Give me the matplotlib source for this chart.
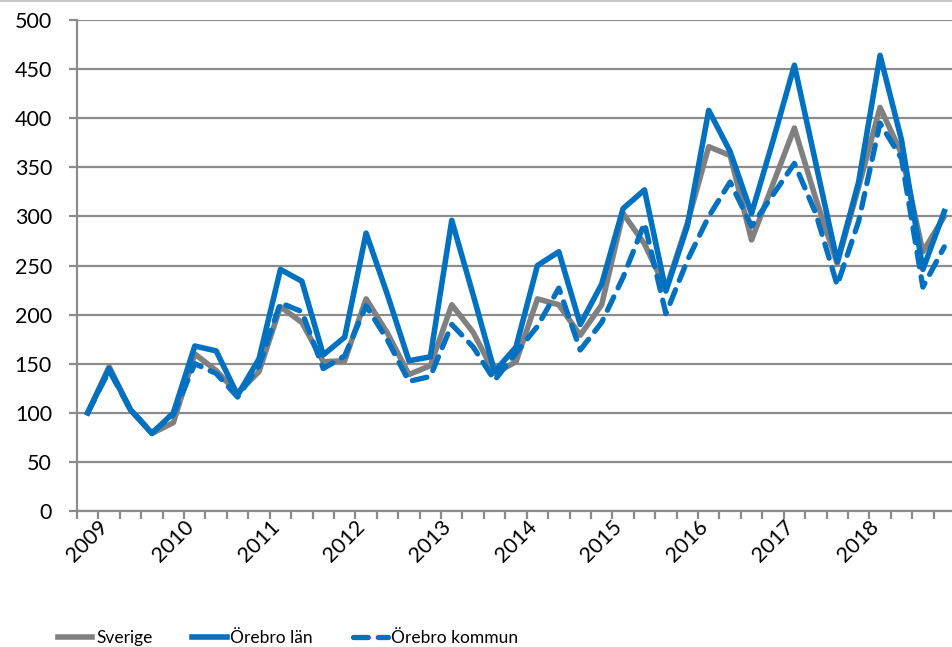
import matplotlib

matplotlib.use("Agg")

import matplotlib.pyplot as plt  # noqa: E402
from matplotlib.lines import Line2D  # noqa: E402

# Kvartalsdata, index 100 = 2009 kv1
years = ["2009", "2010", "2011", "2012", "2013", "2014", "2015", "2016", "2017", "2018"]
sverige = [100, 147, 103, 79, 90, 160, 143, 120, 142, 208, 192, 152, 153, 216, 181,
           139, 148, 210, 182, 140, 152, 216, 210, 179, 210, 303, 272, 226, 293, 371,
           362, 276, 333, 390, 318, 252, 330, 411, 364, 264, 300]
orebro_lan = [100, 145, 103, 79, 100, 168, 163, 118, 155, 246, 234, 159, 177, 283, 220,
              153, 157, 296, 220, 142, 167, 250, 264, 190, 231, 308, 327, 224, 290, 408,
              366, 303, 377, 454, 354, 254, 335, 464, 378, 246, 305]
orebro_kommun = [100, 143, 103, 80, 98, 150, 140, 116, 148, 212, 203, 145, 158, 209, 174,
                 132, 137, 190, 167, 133, 161, 188, 227, 164, 192, 238, 293, 201, 255, 300,
                 335, 290, 322, 354, 303, 230, 295, 395, 359, 228, 269]

GREY = "#808080"
BLUE = "#0070C0"
AXIS = "#8C8C8C"

plt.rcParams["font.family"] = ["Lato", "DejaVu Sans"]

fig = plt.figure(figsize=(9.52, 6.47), dpi=100)
# plot area runs past the right edge, like the cropped original
ax = fig.add_axes([77 / 952, 1 - 511 / 647, (955 - 77) / 952, 491 / 647])

x = list(range(len(sverige)))
ax.plot(x, sverige, color=GREY, lw=4.0, solid_joinstyle="round", label="Sverige", zorder=3)
ax.plot(x, orebro_lan, color=BLUE, lw=4.0, solid_joinstyle="round", label="Örebro län", zorder=4)
ax.plot(x, orebro_kommun, color=BLUE, lw=3.8, ls=(0, (2.8, 1.9)), dash_capstyle="round",
        label="Örebro kommun", zorder=5)

ax.set_xlim(-0.5, len(sverige) - 0.5)
ax.set_ylim(0, 500)
ax.set_yticks(range(0, 501, 50))
ax.grid(axis="y", color=AXIS, lw=1.6)
ax.set_axisbelow(True)

# tick marks at every category boundary, year labels every fourth quarter
ax.set_xticks([i - 0.5 for i in range(len(sverige) + 1)])
ax.set_xticklabels([])
ax.set_xticks(list(range(0, len(years) * 4, 4)), minor=True)
ax.set_xticklabels(years, minor=True, rotation=45, ha="center", va="top", fontsize=15.5)
ax.tick_params(axis="x", which="major", length=6, width=1.6, color=AXIS, direction="out")
ax.tick_params(axis="x", which="minor", length=0, pad=4)
ax.tick_params(axis="y", length=6, width=1.6, color=AXIS, labelsize=15.5, pad=12)

for side in ["top", "right"]:
    ax.spines[side].set_visible(False)
for side in ["left", "bottom"]:
    ax.spines[side].set_color(AXIS)
    ax.spines[side].set_linewidth(1.6)

# chart border at the top
fig.add_artist(Line2D([0, 1], [0.998, 0.998], color="#BFBFBF", lw=1.2))

fig.legend(loc="center", bbox_to_anchor=(288 / 952, 1 - 638 / 647), ncol=3, frameon=False,
           fontsize=12.5, handlelength=2.0, handletextpad=0.2, columnspacing=2.3,
           borderaxespad=0, borderpad=0)

fig.savefig("out.png", dpi=100)
